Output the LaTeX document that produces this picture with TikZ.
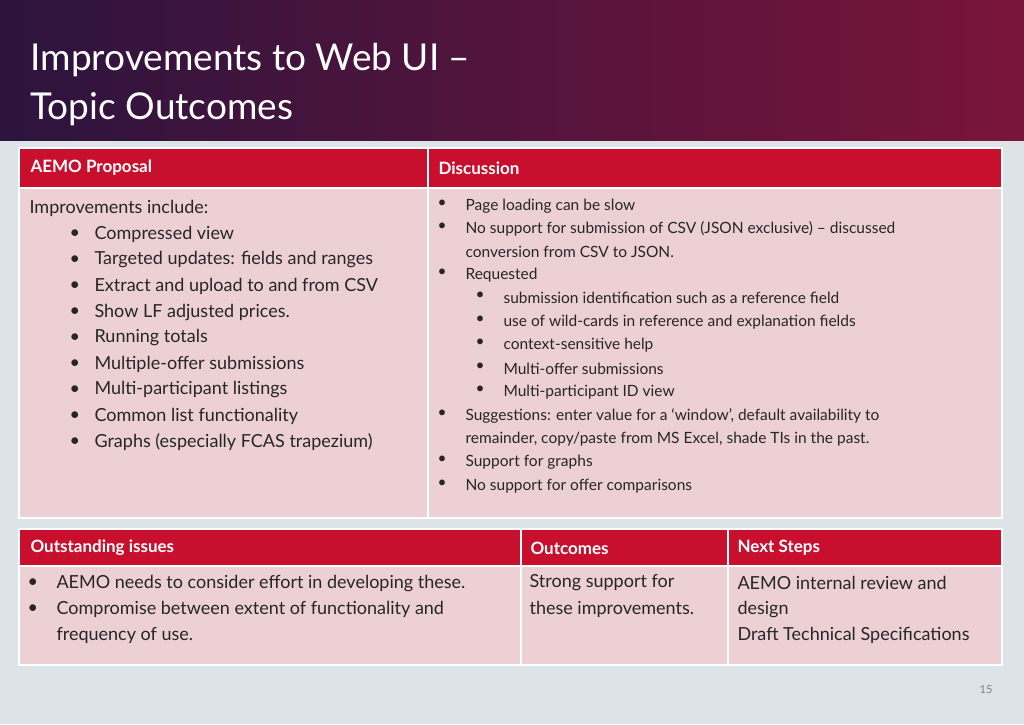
\documentclass[tikz,border=0pt]{standalone}
\usepackage{fontspec}
\setmainfont{Lato}
\definecolor{bgc}{RGB}{221,228,232}
\definecolor{hdl}{RGB}{44,20,62}
\definecolor{hdr}{RGB}{122,20,58}
\definecolor{redc}{RGB}{200,16,46}
\definecolor{pinkc}{RGB}{236,208,212}
\tikzset{
 hcell/.style={fill=redc,draw=white,line width=1.5pt},
 bcell/.style={fill=pinkc,draw=white,line width=1.5pt},
 htxt/.style={anchor=west,text=white,font=\fontsize{17}{20}\selectfont\bfseries},
 ltxt/.style={anchor=west,font=\fontsize{18}{21}\selectfont,text=black!85},
 rtxt/.style={anchor=west,font=\fontsize{15.5}{18}\selectfont,text=black!85},
}
\newcommand{\bul}{\textbullet}
\begin{document}
\begin{tikzpicture}[x=1pt,y=-1pt]
\useasboundingbox (0,0) rectangle (1024,724);
\fill[bgc] (0,0) rectangle (1024,724);
\shade[left color=hdl,right color=hdr] (0,0) rectangle (1024,140);
\node[anchor=west,text=white,font=\fontsize{37}{44}\selectfont] (t1) at (27,60) {Improvements to Web UI --};
\node[anchor=west,text=white,font=\fontsize{37}{44}\selectfont] (t2) at (27,109) {Topic Outcomes};
% table 1
\path[hcell] (19,148) rectangle (428,188);
\path[hcell] (428,148) rectangle (1002,188);
\path[bcell] (19,188) rectangle (428,518);
\path[bcell] (428,188) rectangle (1002,518);
\node[htxt] (h1) at (27,168) {AEMO Proposal};
\node[htxt] (h2) at (435,168) {Discussion};
\node[ltxt] (l0) at (26,208) {Improvements include:};
\foreach \t [count=\i] in {Compressed view,Targeted updates: fields and ranges,Extract and upload to and from CSV,Show LF adjusted prices.,Running totals,Multiple-offer submissions,Multi-participant listings,Common list functionality,Graphs (especially FCAS trapezium)}{
 \node[ltxt] (lb\i) at (66,208+26*\i) {\bul};
 \node[ltxt] (lt\i) at (91,208+26*\i) {\t};
}
\foreach \y/\x/\t in {206/462/Page loading can be slow,229/462/No support for submission of CSV (JSON exclusive) -- discussed,252/462/conversion from CSV to JSON.,275/462/Requested,298/500/submission identification such as a reference field,322/500/use of wild-cards in reference and explanation fields,345/500/context-sensitive help,369/500/Multi-offer submissions,392/500/Multi-participant ID view,416/462/{Suggestions: enter value for a `window', default availability to},439/462/{remainder, copy/paste from MS Excel, shade TIs in the past.},462/462/Support for graphs,486/462/No support for offer comparisons}{
 \node[rtxt] at (\x,\y) {\t};
}
\foreach \y/\x in {206/434,229/434,275/434,298/472,322/472,345/472,369/472,392/472,416/434,462/434,486/434}{
 \node[rtxt] at (\x,\y-2) {\bul};
}
% table 2
\path[hcell] (19,529) rectangle (521,566);
\path[hcell] (521,529) rectangle (728,566);
\path[hcell] (728,529) rectangle (1002,566);
\path[bcell] (19,566) rectangle (521,665);
\path[bcell] (521,566) rectangle (728,665);
\path[bcell] (728,566) rectangle (1002,665);
\node[htxt] (h3) at (27,548) {Outstanding issues};
\node[htxt] (h4) at (527,548) {Outcomes};
\node[htxt] (h5) at (734,548) {Next Steps};
\node[ltxt] at (24,583) {\bul};
\node[ltxt] at (24,609) {\bul};
\node[ltxt] at (53,583) {AEMO needs to consider effort in developing these.};
\node[ltxt] at (53,609) {Compromise between extent of functionality and};
\node[ltxt] at (53,635) {frequency of use.};
\node[ltxt] at (526,583) {Strong support for};
\node[ltxt] at (526,609) {these improvements.};
\node[ltxt] at (734,583) {AEMO internal review and};
\node[ltxt] at (734,609) {design};
\node[ltxt] at (734,635) {Draft Technical Specifications};
\node[text=black!50,font=\fontsize{11}{13}\selectfont] (pg) at (986,690) {15};
\end{tikzpicture}
\end{document}
